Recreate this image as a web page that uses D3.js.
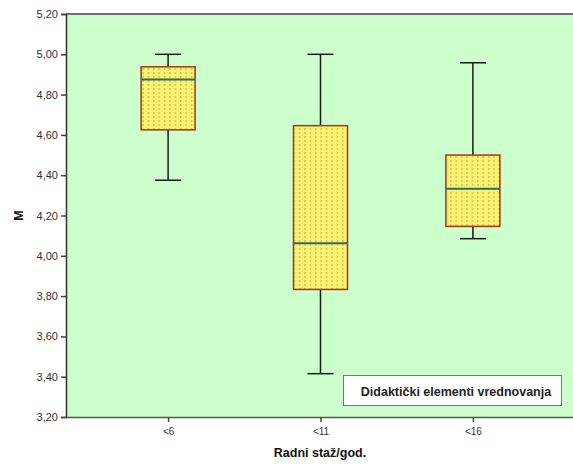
<!DOCTYPE html>
<html>
<head>
<meta charset="utf-8">
<script src="https://cdn.jsdelivr.net/npm/d3@7"></script>
<style>
  body { margin: 0; background: #fff; }
  svg { display: block; font-family: Arial, "Liberation Sans", sans-serif; }
</style>
</head>
<body>
<div id="chart"></div>
<script>
const width = 573;
const height = 464;
const margin = { top: 14, right: -2, bottom: 47, left: 66 };

// data
const categories = ["<6", "<11", "<16"];
const whiskerLow = [4.375, 3.415, 4.085];
const q1 = [4.625, 3.833, 4.146];
const medians = [4.875, 4.062, 4.333];
const q3 = [4.938, 4.646, 4.5];
const whiskerHigh = [5.0, 5.0, 4.958];
const yTicks = [3.2, 3.4, 3.6, 3.8, 4.0, 4.2, 4.4, 4.6, 4.8, 5.0, 5.2];
const legendLabel = "Didaktički elementi vrednovanja";
const xTitle = "Radni staž/god.";
const yTitle = "M";

const boxes = categories.map((c, i) => ({
    cat: c, lo: whiskerLow[i], q1: q1[i], med: medians[i], q3: q3[i], hi: whiskerHigh[i]
}));

const svg = d3.select("#chart")
    .append("svg")
    .attr("width", width)
    .attr("height", height);

const plotW = width - margin.left - margin.right;
const plotH = height - margin.top - margin.bottom;

const x = d3.scalePoint()
    .domain(categories)
    .range([margin.left, margin.left + plotW])
    .padding(0.67);

const y = d3.scaleLinear()
    .domain([3.2, 5.2])
    .range([margin.top + plotH, margin.top]);

// dotted fill pattern for boxes
const defs = svg.append("defs");
const pat = defs.append("pattern")
    .attr("id", "dots")
    .attr("patternUnits", "userSpaceOnUse")
    .attr("width", 5.4)
    .attr("height", 4);
pat.append("rect").attr("width", 5.4).attr("height", 4).attr("fill", "#faf270");
pat.append("rect").attr("x", 2).attr("y", 0).attr("width", 1.2).attr("height", 2).attr("fill", "#cdb448");

// plot background
svg.append("rect")
    .attr("x", margin.left)
    .attr("y", margin.top)
    .attr("width", plotW)
    .attr("height", plotH)
    .attr("fill", "#ccffcc");

// top frame line
svg.append("line")
    .attr("x1", margin.left).attr("x2", width)
    .attr("y1", margin.top).attr("y2", margin.top)
    .attr("stroke", "#707070").attr("stroke-width", 2);

// axes
const yAxis = d3.axisLeft(y)
    .tickValues(yTicks)
    .tickSize(5)
    .tickFormat(d => d3.format(".2f")(d).replace(".", ","));

const gy = svg.append("g")
    .attr("transform", `translate(${margin.left},0)`)
    .call(yAxis);
gy.select(".domain").attr("stroke", "#333").attr("stroke-width", 1.5);
gy.selectAll(".tick line").attr("stroke", "#444").attr("stroke-width", 1.5);
gy.selectAll(".tick text").attr("fill", "#333").attr("font-size", 11).attr("x", -8);

const xAxis = d3.axisBottom(x).tickSize(5).tickSizeOuter(0);
const gx = svg.append("g")
    .attr("transform", `translate(0,${margin.top + plotH})`)
    .call(xAxis);
gx.select(".domain").attr("stroke", "#555").attr("stroke-width", 1.5);
gx.selectAll(".tick line").attr("stroke", "#444").attr("stroke-width", 1.5);
gx.selectAll(".tick text").attr("fill", "#333").attr("font-size", 10).attr("dy", "1em");

const boxW = 54;
const capW = 26;

const g = svg.append("g")
    .selectAll("g")
    .data(boxes)
    .enter()
    .append("g");

// whiskers
g.append("line")
    .attr("x1", d => x(d.cat)).attr("x2", d => x(d.cat))
    .attr("y1", d => y(d.hi)).attr("y2", d => y(d.q3))
    .attr("stroke", "#1a1a1a").attr("stroke-width", 1.5);
g.append("line")
    .attr("x1", d => x(d.cat)).attr("x2", d => x(d.cat))
    .attr("y1", d => y(d.q1)).attr("y2", d => y(d.lo))
    .attr("stroke", "#1a1a1a").attr("stroke-width", 1.5);
g.append("line")
    .attr("x1", d => x(d.cat) - capW / 2).attr("x2", d => x(d.cat) + capW / 2)
    .attr("y1", d => y(d.hi)).attr("y2", d => y(d.hi))
    .attr("stroke", "#1a1a1a").attr("stroke-width", 1.5);
g.append("line")
    .attr("x1", d => x(d.cat) - capW / 2).attr("x2", d => x(d.cat) + capW / 2)
    .attr("y1", d => y(d.lo)).attr("y2", d => y(d.lo))
    .attr("stroke", "#1a1a1a").attr("stroke-width", 1.5);

// boxes
g.append("rect")
    .attr("x", d => x(d.cat) - boxW / 2)
    .attr("y", d => y(d.q3))
    .attr("width", boxW)
    .attr("height", d => y(d.q1) - y(d.q3))
    .attr("fill", "url(#dots)")
    .attr("stroke", "#a8321c")
    .attr("stroke-width", 1.5);

// medians
g.append("line")
    .attr("x1", d => x(d.cat) - boxW / 2).attr("x2", d => x(d.cat) + boxW / 2)
    .attr("y1", d => y(d.med)).attr("y2", d => y(d.med))
    .attr("stroke", "#2d6b6b").attr("stroke-width", 2);

// legend
const legend = svg.append("g");
legend.append("rect")
    .attr("x", 343.5).attr("y", 375.5)
    .attr("width", 218).attr("height", 30)
    .attr("fill", "#ffffff")
    .attr("stroke", "#8c6e60")
    .attr("stroke-width", 1);
legend.append("text")
    .attr("x", 456).attr("y", 395.5)
    .attr("text-anchor", "middle")
    .attr("font-size", 12.5)
    .attr("font-weight", "bold")
    .attr("fill", "#222")
    .text(legendLabel);

// axis titles
svg.append("text")
    .attr("x", 320)
    .attr("y", 457)
    .attr("text-anchor", "middle")
    .attr("font-size", 12.5)
    .attr("font-weight", "bold")
    .attr("fill", "#111")
    .text(xTitle);

svg.append("text")
    .attr("transform", `translate(23,${margin.top + plotH / 2}) rotate(-90)`)
    .attr("text-anchor", "middle")
    .attr("font-size", 12.5)
    .attr("font-weight", "bold")
    .attr("fill", "#111")
    .text(yTitle);
</script>
</body>
</html>
